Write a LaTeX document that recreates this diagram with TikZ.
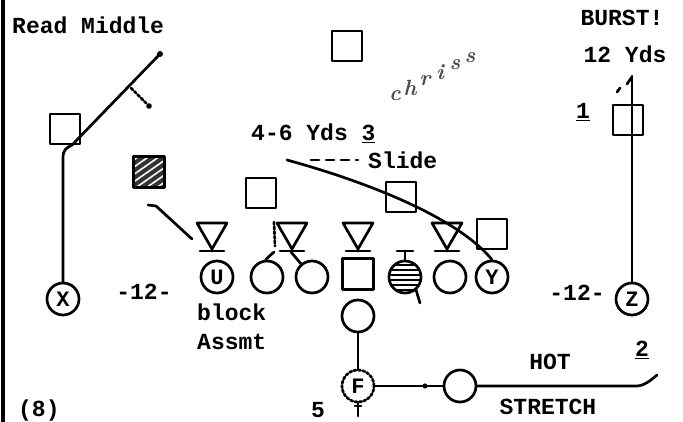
\documentclass[tikz,border=0pt]{standalone}
\usepackage{fontspec}
\newfontfamily\tw{Liberation Mono}
\usetikzlibrary{patterns.meta}
\begin{document}
\begin{tikzpicture}[x=1pt,y=-1pt,
  ln/.style={line width=2.7pt, line cap=round, line join=round},
  pl/.style={circle, draw, ln, minimum size=32pt, inner sep=0pt, font=\tw\bfseries\fontsize{22}{22}\selectfont},
  sq/.style={rectangle, draw, ln, minimum size=30pt, inner sep=0pt},
  txt/.style={inner sep=0pt, font=\tw\bfseries\fontsize{23}{24}\selectfont},
  scrib/.style={inner sep=0pt, font=\itshape\bfseries\fontsize{22}{22}\selectfont, text=black!70},
  dl/.pic={\draw[ln] (-15,-28)--(15,-28)--(0,-2)--cycle;
           \draw[ln] (-12,0)--(12,0); \draw[ln] (0,-2)--(0,0);
           \coordinate (-b) at (0,0);}
]
\useasboundingbox (0,0) rectangle (683,422);
\clip (0,0) rectangle (683,422);
\fill[white] (0,0) rectangle (683,422);
% left border
\draw[line width=3.4pt] (3,0) -- (3,422);

% texts
\node[txt, anchor=west] (rm) at (12,25) {Read Middle};
\node[txt] (burst) at (622,18) {BURST!};
\node[txt] (y12) at (625,54) {12 Yds};
\node[txt] (one) at (583,112) {\underline{1}};
\node[txt, anchor=west] (yds46) at (251,133) {4-6 Yds \underline{3}};
\node[txt, anchor=west] (slide) at (368,160) {Slide};
\node[txt] (m12L) at (144,292) {-12-};
\node[txt] (m12R) at (577,293) {-12-};
\node[txt, anchor=west] (blk) at (197,312) {block};
\node[txt, anchor=west] (asm) at (197,342) {Assmt};
\node[txt] (five) at (318,410) {5};
\node[txt] (hot) at (550,362) {HOT};
\node[txt] (two) at (642,350) {\underline{2}};
\node[txt] (str) at (548,407) {STRETCH};
\node[txt, anchor=south west] (eight) at (18,421) {(8)};
% handwritten scribble, letters along a rising line
\foreach \ch [count=\i] in {c,h,r,i,s,s}
  \node[scrib] (scr\i) at ({380+15*\i},{103-7.6*\i}) {\ch};

% squares (defenders)
\node[sq] (sqL) at (65,129) {};
\node[sq] (sqT) at (347,46) {};
\node[sq] (sqM) at (261,193) {};
\node[sq] (sqR) at (401,197) {};
\node[sq] (sqY) at (492,234) {};
\node[sq] (sqZ) at (628,120) {};
\node[sq, minimum size=31pt, preaction={fill=black!80}, pattern={Lines[angle=35,distance=6pt,line width=1.6pt]}, pattern color=white] (sqH) at (149,172) {};

% down linemen
\pic (d1) at (212,251) {dl};
\pic (d2) at (292,251) {dl};
\pic (d3) at (358,251) {dl};
\pic (d4) at (447,251) {dl};

% offense
\node[pl] (X) at (63,299) {X};
\node[pl] (U) at (217,277) {U};
\node[pl] (g1) at (267,277) {};
\node[pl] (g2) at (312,277) {};
\node[sq, minimum size=31pt] (C) at (358,274) {};
\node[pl] (S) at (405,277) {};
\node[pl] (t6) at (450,277) {};
\node[pl] (Y) at (492,277) {Y};
\node[pl] (Z) at (632,299) {Z};
\node[pl] (H) at (358,316) {};
\node[pl, dash pattern=on 2.5pt off 2pt] (F) at (358,386) {F};
\node[pl] (R) at (460,386) {};

% striped circle details
\begin{scope}
  \clip (405,277) circle (15);
  \foreach \yy in {265,270,...,292} \draw[line width=2.2pt] (388,\yy) -- (422,\yy);
\end{scope}
\draw[ln] (397,251) -- (413,251);
\draw[ln] (405,251) -- (S.north);
\draw[ln] (S.-50) -- (420,303);

% Read middle route
\draw[ln] (X.north) -- (63,158) .. controls (63,150) and (66,148) .. (72,145) -- (160,54);
\fill (160,54) circle (3);
\draw[ln, dotted] (131,88) -- (147,104);
\fill (149,106) circle (2.8);

% block line near hatched
\draw[ln] (148,205) -- (156,206) -- (192,239);

% double team
\draw[ln, dotted] (274,222) -- (275,246);
\draw[ln] (274,252) -- (g1.95);
\draw[ln] (291,252) -- (g2.130);

% Y route
\draw[ln] (Y.north) .. controls (455,215) and (360,180) .. (287,160);
\draw[ln, dash pattern=on 8pt off 7pt] (311,160) -- (358,160);

% Z route
\draw[ln] (Z.north) -- (632,76);
\draw[ln] (632,77) -- (627,84);
\draw[ln] (617,92) -- (620,88);

% backfield
\draw[ln] (H.south) -- (F.north);
\draw[ln] (F.south) -- (358,416);
\draw[ln] (355,406) -- (361,406);
\draw[ln] (F.east) -- (R.west);
\fill (425,386) circle (2.6);
\draw[ln] (R.east) -- (636,386) .. controls (644,386) and (650,381) .. (657,375);
\end{tikzpicture}
\end{document}
